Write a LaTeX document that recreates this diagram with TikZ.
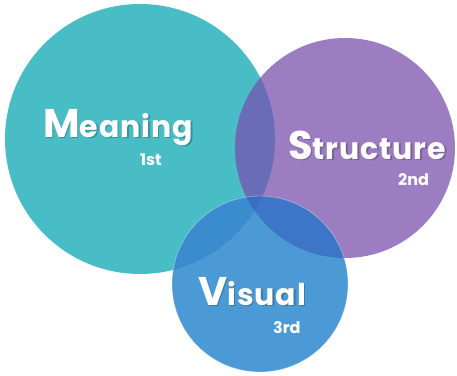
\documentclass[tikz,border=0pt]{standalone}
\usepackage{fontspec}
\setmainfont{Poppins}
\newfontfamily\wfont[LetterSpace=3]{Poppins}
\definecolor{cteal}{RGB}{72,189,198}
\definecolor{cpurple}{RGB}{157,125,193}
\definecolor{cblue}{RGB}{75,154,214}
\definecolor{cTP}{RGB}{106,108,181}
\definecolor{cTB}{RGB}{58,140,207}
\definecolor{cPB}{RGB}{61,118,198}
\definecolor{cTPB}{RGB}{59,108,190}
\tikzset{
  word/.style={anchor=base west, inner sep=0pt, text=white, font=\wfont\bfseries},
  wshadow/.style={anchor=base west, inner sep=0pt, text=black, opacity=0.22, font=\wfont\bfseries},
  rank/.style={anchor=base west, inner sep=0pt, text=white, font=\bfseries\fontsize{16}{16}\selectfont},
}
\newcommand{\bigw}[2]{{\fontsize{40}{40}\selectfont #1}{\fontsize{30}{30}\selectfont #2}}
\begin{document}
\begin{tikzpicture}[x=1pt,y=-1pt]
\useasboundingbox (0,0) rectangle (457,375);
\fill[white] (0,0) rectangle (457,375);
\coordinate (cM) at (140,139);
\coordinate (cS) at (345,148);
\coordinate (cV) at (260,284);
\def\rM{135pt}
\def\rS{110pt}
\def\rV{88pt}
\fill[cteal] (cM) circle[radius=\rM];
\fill[cpurple] (cS) circle[radius=\rS];
\fill[cblue] (cV) circle[radius=\rV];
\begin{scope}
  \clip (cM) circle[radius=\rM];
  \fill[cTP] (cS) circle[radius=\rS];
  \fill[cTB] (cV) circle[radius=\rV];
\end{scope}
\begin{scope}
  \clip (cS) circle[radius=\rS];
  \fill[cPB] (cV) circle[radius=\rV];
\end{scope}
\begin{scope}
  \clip (cM) circle[radius=\rM];
  \clip (cS) circle[radius=\rS];
  \fill[cTPB] (cV) circle[radius=\rV];
\end{scope}
\draw[white, opacity=0.35, line width=0.8pt] (cV) circle[radius=\rV];
% shadows
\node[wshadow] (mshadow) at (44.5,138.5) {\bigw{M}{eaning}};
\node[wshadow] (sshadow) at (289.5,160.5) {\bigw{S}{tructure}};
\node[wshadow] (vshadow) at (199.5,306.5) {\bigw{V}{isual}};
% words
\node[word] (meaning) at (43,137) {\bigw{M}{eaning}};
\node[word] (structure) at (288,159) {\bigw{S}{tructure}};
\node[word] (visual) at (198,305) {\bigw{V}{isual}};
\node[rank] (first) at (140,165) {1st};
\node[rank] (second) at (398,185) {2nd};
\node[rank] (third) at (273,333) {3rd};
\end{tikzpicture}
\end{document}
